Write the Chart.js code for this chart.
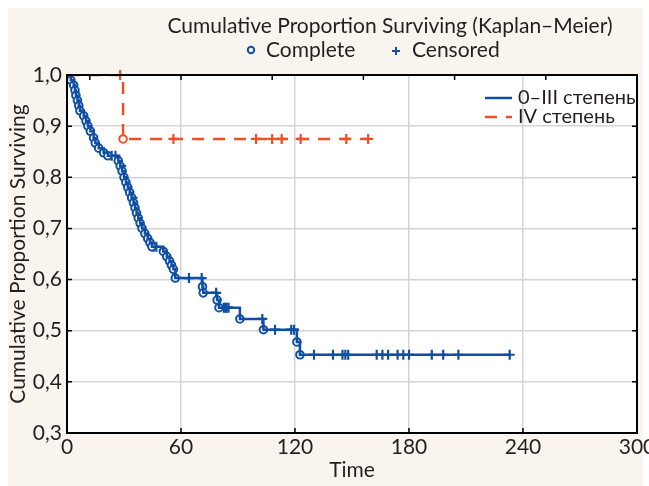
<!DOCTYPE html>
<html>
<head>
<meta charset="utf-8">
<script src="https://cdn.jsdelivr.net/npm/chart.js@4/dist/chart.umd.min.js"></script>
<style>
html, body { margin: 0; padding: 0; background: #fff; }
canvas { display: block; }
</style>
</head>
<body>
<canvas id="km" width="649" height="486"></canvas>
<script>
// 0-III stage: time of each death and survival right after it
var stageLowEventTime = [2, 3.5, 4.2, 4.7, 5.5, 6.2, 6.8, 8.8, 10, 11, 12.3, 14, 14.9, 16.7, 19.3, 21.5,
  27, 28, 29, 30, 31, 32, 33, 34, 35, 35.8, 36.6, 37.5, 38.5, 39.5, 41, 42.5, 43.7, 44.7,
  50.7, 52.5, 54, 55, 56, 57, 71.3, 71.7, 79, 80, 91, 103.4, 121, 122.6];
var stageLowEventSurv = [0.99, 0.98, 0.97, 0.96, 0.95, 0.94, 0.93, 0.92, 0.91, 0.90, 0.89, 0.877, 0.867, 0.857, 0.848, 0.842,
  0.832, 0.822, 0.812, 0.80, 0.79, 0.78, 0.77, 0.76, 0.75, 0.74, 0.73, 0.72, 0.71, 0.70, 0.69, 0.68, 0.672, 0.664,
  0.655, 0.645, 0.636, 0.628, 0.62, 0.603, 0.586, 0.574, 0.56, 0.545, 0.523, 0.502, 0.478, 0.453];
// 0-III stage: censored cases
var stageLowCensTime = [23.5, 25.5, 28.5, 34.5, 45.5, 47, 64.2, 70.9, 78.5, 82.5, 83.3, 84, 85, 102.8, 109.5, 118, 119.5,
  130, 140, 145, 146.5, 148, 163, 166, 169, 174, 177, 180, 192, 198, 206, 233];
var stageLowCensSurv = [0.842, 0.842, 0.822, 0.76, 0.664, 0.664, 0.603, 0.603, 0.574, 0.545, 0.545, 0.545, 0.545, 0.523, 0.502, 0.502, 0.502,
  0.453, 0.453, 0.453, 0.453, 0.453, 0.453, 0.453, 0.453, 0.453, 0.453, 0.453, 0.453, 0.453, 0.453, 0.453];

// IV stage
var stageHighEventTime = [29.5];
var stageHighEventSurv = [0.875];
var stageHighCensTime = [28, 56, 99.5, 108, 113, 123, 147, 158.5];
var stageHighCensSurv = [1, 0.875, 0.875, 0.875, 0.875, 0.875, 0.875, 0.875];

var seriesNames = ['0–III степень', 'IV степень'];
var xTicks = [0, 60, 120, 180, 240, 300];
var topTicks = [12, 60, 108, 156, 204, 252];
var yTicks = [0.3, 0.4, 0.5, 0.6, 0.7, 0.8, 0.9, 1.0];

var blue = '#0f4fa3';
var red = '#f04e23';
var ink = '#231f20';
var FONT = 'Lato, "Open Sans", sans-serif';

function pts(t, s) {
  var out = [];
  for (var i = 0; i < t.length; i++) out.push({ x: t[i], y: s[i] });
  return out;
}

// step line through deaths and censored points, starting at (0, 1)
function kmLine(et, es, ct, cs) {
  var all = pts(et, es).concat(pts(ct, cs));
  all.sort(function (a, b) { return a.x - b.x; });
  return [{ x: 0, y: 1 }].concat(all);
}

// beige sheet, white plot, frame, inner ticks, header and legend
var decor = {
  id: 'decor',
  beforeDraw: function (chart) {
    var c = chart.ctx, a = chart.chartArea;
    c.save();
    c.fillStyle = '#fff';
    c.fillRect(0, 0, chart.width, chart.height);
    c.fillStyle = '#f9f5ee';
    c.fillRect(8, 8, 635, 478);
    c.fillStyle = '#fff';
    c.fillRect(a.left, a.top, a.right - a.left, a.bottom - a.top);
    c.restore();
  },
  afterDraw: function (chart) {
    var c = chart.ctx, a = chart.chartArea;
    var xs = chart.scales.x, ys = chart.scales.y;
    c.save();
    // frame
    c.strokeStyle = '#000';
    c.lineWidth = 2;
    c.strokeRect(a.left, a.top, a.right - a.left, a.bottom - a.top);
    // inward ticks
    c.lineWidth = 1.5;
    c.beginPath();
    xTicks.forEach(function (v) {
      var px = xs.getPixelForValue(v);
      c.moveTo(px, a.bottom); c.lineTo(px, a.bottom - 5);
    });
    topTicks.forEach(function (v) {
      var px = xs.getPixelForValue(v);
      c.moveTo(px, a.top); c.lineTo(px, a.top + 5);
    });
    yTicks.forEach(function (v) {
      var py = ys.getPixelForValue(v);
      c.moveTo(a.left, py); c.lineTo(a.left + 5, py);
      c.moveTo(a.right, py); c.lineTo(a.right - 5, py);
    });
    c.stroke();

    // header
    c.fillStyle = ink;
    c.textBaseline = 'alphabetic';
    c.textAlign = 'center';
    c.font = '21px ' + FONT;
    c.fillText('Cumulative Proportion Surviving (Kaplan–Meier)', 390, 33);
    c.textAlign = 'left';
    c.fillText('Complete', 266, 57);
    c.fillText('Censored', 412, 57);
    c.strokeStyle = blue;
    c.lineWidth = 2;
    c.beginPath();
    c.arc(251, 50, 3.2, 0, Math.PI * 2);
    c.stroke();
    c.beginPath();
    c.moveTo(392, 51); c.lineTo(400, 51);
    c.moveTo(396, 47); c.lineTo(396, 55);
    c.stroke();

    // series legend inside the plot
    c.font = '20px ' + FONT;
    c.textBaseline = 'middle';
    c.lineWidth = 2.5;
    c.strokeStyle = blue;
    c.beginPath();
    c.moveTo(485, 98); c.lineTo(512, 98);
    c.stroke();
    c.strokeStyle = red;
    c.setLineDash([12, 9]);
    c.beginPath();
    c.moveTo(485, 117); c.lineTo(512, 117);
    c.stroke();
    c.setLineDash([]);
    c.fillStyle = ink;
    c.fillText(seriesNames[0], 518, 98);
    c.fillText(seriesNames[1], 518, 117);
    c.restore();
  }
};

var ctx = document.getElementById('km').getContext('2d');
var chart = new Chart(ctx, {
  type: 'line',
  data: {
    datasets: [
      {
        label: seriesNames[0],
        data: kmLine(stageLowEventTime, stageLowEventSurv, stageLowCensTime, stageLowCensSurv),
        borderColor: blue,
        borderWidth: 2.5,
        stepped: 'before',
        pointRadius: 0,
        fill: false
      },
      {
        label: seriesNames[1],
        data: kmLine(stageHighEventTime, stageHighEventSurv, stageHighCensTime, stageHighCensSurv),
        borderColor: red,
        borderWidth: 2.5,
        borderDash: [12, 9],
        stepped: 'before',
        pointRadius: 0,
        fill: false
      },
      {
        label: 'Complete 0–III',
        type: 'scatter',
        data: pts(stageLowEventTime, stageLowEventSurv),
        pointStyle: 'circle',
        pointRadius: 3.8,
        borderWidth: 2,
        borderColor: blue,
        backgroundColor: '#fff',
        clip: 8
      },
      {
        label: 'Censored 0–III',
        type: 'scatter',
        data: pts(stageLowCensTime, stageLowCensSurv),
        pointStyle: 'cross',
        pointRadius: 5,
        borderWidth: 2.2,
        borderColor: blue,
        clip: 8
      },
      {
        label: 'Complete IV',
        type: 'scatter',
        data: pts(stageHighEventTime, stageHighEventSurv),
        pointStyle: 'circle',
        pointRadius: 3.8,
        borderWidth: 2,
        borderColor: red,
        backgroundColor: '#fff',
        clip: 8
      },
      {
        label: 'Censored IV',
        type: 'scatter',
        data: pts(stageHighCensTime, stageHighCensSurv),
        pointStyle: 'cross',
        pointRadius: 5,
        borderWidth: 2.2,
        borderColor: red,
        clip: 8
      }
    ]
  },
  options: {
    responsive: false,
    animation: false,
    devicePixelRatio: 1,
    layout: { padding: { top: 75, right: 12, bottom: 0, left: 0 } },
    plugins: {
      legend: { display: false },
      tooltip: { enabled: false }
    },
    scales: {
      x: {
        type: 'linear',
        min: 0,
        max: 300,
        afterBuildTicks: function (s) { s.ticks = xTicks.map(function (v) { return { value: v }; }); },
        afterFit: function (s) { s.height = 53; s.paddingLeft = 0; s.paddingRight = 0; },
        ticks: { color: ink, font: { family: FONT, size: 21 }, padding: 2, maxRotation: 0 },
        grid: { color: '#d4d4d4', lineWidth: 1.5, drawTicks: false },
        border: { display: false },
        title: { display: true, text: 'Time', color: ink, font: { family: FONT, size: 21 }, padding: { top: 0, bottom: 3 } }
      },
      y: {
        min: 0.3,
        max: 1.0,
        afterBuildTicks: function (s) { s.ticks = yTicks.map(function (v) { return { value: v }; }); },
        afterFit: function (s) { s.width = 67; s.paddingTop = 0; s.paddingBottom = 0; },
        ticks: {
          color: ink,
          font: { family: FONT, size: 21 },
          padding: 5,
          callback: function (v) { return v.toFixed(1).replace('.', ','); }
        },
        grid: { color: '#d4d4d4', lineWidth: 1.5, drawTicks: false },
        border: { display: false },
        title: { display: true, text: 'Cumulative Proportion Surviving', color: ink, font: { family: FONT, size: 21 }, padding: { top: 6, bottom: 0 } }
      }
    }
  },
  plugins: [decor]
});
</script>
</body>
</html>
